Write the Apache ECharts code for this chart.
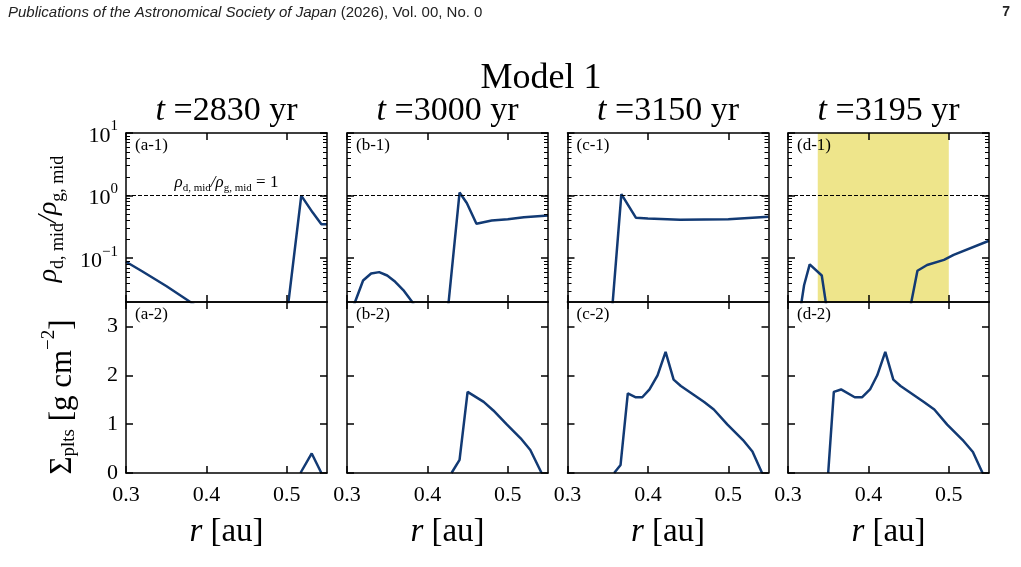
<!DOCTYPE html>
<html>
<head>
<meta charset="utf-8">
<script src="https://cdn.jsdelivr.net/npm/echarts@6/dist/echarts.min.js"></script>
<style>
html, body { margin: 0; padding: 0; background: #fff; }
#chart { width: 1021px; height: 567px; }
</style>
</head>
<body>
<div id="chart"></div>
<script>
// midplane dust-to-gas ratio (top row), radius in au
const rA1 = [0.30, 0.32, 0.35, 0.38, 0.39, 0.50, 0.518, 0.532, 0.543, 0.55];
const ratioA1 = [0.088, 0.062, 0.036, 0.020, 0.016, 0.012, 1.0, 0.54, 0.35, 0.35];
const rB1 = [0.30, 0.31, 0.32, 0.33, 0.34, 0.35, 0.36, 0.37, 0.38, 0.39, 0.42, 0.44, 0.449, 0.461, 0.48, 0.50, 0.52, 0.55];
const ratioB1 = [0.008, 0.02, 0.044, 0.057, 0.06, 0.053, 0.042, 0.031, 0.021, 0.013, 0.003, 1.12, 0.76, 0.355, 0.40, 0.42, 0.45, 0.48];
const rC1 = [0.30, 0.35, 0.367, 0.385, 0.40, 0.44, 0.50, 0.55];
const ratioC1 = [0.001, 0.002, 1.06, 0.445, 0.43, 0.41, 0.42, 0.46];
const rD1 = [0.30, 0.31, 0.32, 0.327, 0.342, 0.35, 0.45, 0.461, 0.473, 0.494, 0.506, 0.55];
const ratioD1 = [0.003, 0.0054, 0.037, 0.08, 0.053, 0.011, 0.012, 0.063, 0.078, 0.094, 0.113, 0.19];

// planetesimal surface density (bottom row), g cm^-2
// (the flat zero stretches lie under the bottom spine, only their ends are kept)
const rA2 = [0.517, 0.531, 0.543];
const sigmaA2 = [0, 0.40, 0];
const rB2 = [0.43, 0.44, 0.45, 0.47, 0.482, 0.499, 0.516, 0.528, 0.542];
const sigmaB2 = [0, 0.27, 1.66, 1.455, 1.28, 0.99, 0.71, 0.47, 0];
const rC2 = [0.358, 0.366, 0.375, 0.385, 0.393, 0.402, 0.412, 0.422, 0.432, 0.441, 0.470, 0.482, 0.499, 0.518, 0.530, 0.542];
const sigmaC2 = [0, 0.165, 1.63, 1.55, 1.55, 1.71, 2.0, 2.48, 1.91, 1.78, 1.455, 1.30, 0.99, 0.68, 0.44, 0];
const rD2 = [0.350, 0.357, 0.366, 0.383, 0.392, 0.402, 0.411, 0.421, 0.431, 0.440, 0.469, 0.482, 0.498, 0.517, 0.530, 0.542];
const sigmaD2 = [0, 1.66, 1.71, 1.55, 1.55, 1.71, 2.0, 2.48, 1.91, 1.78, 1.455, 1.30, 0.99, 0.68, 0.43, 0];

const snapshotYears = ['2830', '3000', '3150', '3195'];
const panelLetters = ['a', 'b', 'c', 'd'];
const rTicks = [0.3, 0.4, 0.5];
const ratioTicks = [0.1, 1, 10];
const ratioMinorTicks = [0.03, 0.04, 0.05, 0.06, 0.07, 0.08, 0.09, 0.2, 0.3, 0.4, 0.5, 0.6, 0.7, 0.8, 0.9, 2, 3, 4, 5, 6, 7, 8, 9];
const sigmaTicks = [0, 1, 2, 3];
const shadedD1 = [0.337, 0.5];

const topRows = [[rA1, ratioA1], [rB1, ratioB1], [rC1, ratioC1], [rD1, ratioD1]];
const bottomRows = [[rA2, sigmaA2], [rB2, sigmaB2], [rC2, sigmaC2], [rD2, sigmaD2]];

const serif = '"Liberation Serif", "Times New Roman", serif';
const sans = '"Liberation Sans Narrow", "Liberation Sans", sans-serif';
const navy = '#123a74';
const colLeft = [126, 347, 567.5, 788];
const panelW = 201;
const rowTop = [133, 302];
const rowH = [169, 171];

const chart = echarts.init(document.getElementById('chart'));

const grids = [], xAxes = [], yAxes = [], series = [], titles = [];
const black = { color: '#000', width: 1.5 };

function pairs(r, v) {
    return r.map((x, i) => [x, v[i]]);
}

function expLabel(v) {
    const e = Math.round(Math.log10(v));
    return '{b|10}{e|' + (e < 0 ? '\u2212' + (-e) : e) + '}';
}

for (let row = 0; row < 2; row++) {
    for (let col = 0; col < 4; col++) {
        const g = grids.length;
        grids.push({
            left: colLeft[col], top: rowTop[row], width: panelW, height: rowH[row],
            containLabel: false, outerBoundsMode: 'none'
        });
        // x axes, bottom and mirrored top
        ['bottom', 'top'].forEach(pos => {
            const labelled = row === 1 && pos === 'bottom';
            xAxes.push({
                type: 'value', gridIndex: g, position: pos, min: 0.3, max: 0.55, z: 10,
                axisLine: { show: true, onZero: false, lineStyle: black },
                axisTick: { show: true, inside: true, length: 7, customValues: rTicks, lineStyle: black },
                axisLabel: {
                    show: labelled, customValues: rTicks, margin: 11,
                    fontFamily: serif, fontSize: 22, color: '#000',
                    formatter: v => v.toFixed(1)
                },
                splitLine: { show: false },
                name: labelled ? '{i|r} [au]' : '',
                nameLocation: 'middle', nameGap: 43, nameMoveOverlap: false,
                nameTextStyle: {
                    fontFamily: serif, fontSize: 33, color: '#000',
                    rich: { i: { fontFamily: serif, fontSize: 33, fontStyle: 'italic', color: '#000' } }
                }
            });
        });
        const xi = xAxes.length - 2;
        const isLog = row === 0;
        const yBase = isLog
            ? { type: 'log', logBase: 10, min: 0.02, max: 10 }
            : { type: 'value', min: 0, max: 3.5 };
        const majors = isLog ? ratioTicks : sigmaTicks;
        const yi = yAxes.length;
        ['left', 'right'].forEach(pos => {
            yAxes.push(Object.assign({}, yBase, {
                gridIndex: g, position: pos, z: 10,
                axisLine: { show: true, onZero: false, lineStyle: black },
                axisTick: { show: true, inside: true, length: 7, customValues: majors, lineStyle: black },
                axisLabel: {
                    show: col === 0 && pos === 'left', customValues: majors, margin: 8,
                    fontFamily: serif, fontSize: 22, color: '#000',
                    formatter: isLog ? expLabel : (v => String(v)),
                    rich: {
                        b: { fontFamily: serif, fontSize: 22, color: '#000', verticalAlign: 'bottom', padding: [6, 0, 0, 0] },
                        e: { fontFamily: serif, fontSize: 15, color: '#000', verticalAlign: 'top' }
                    }
                },
                splitLine: { show: false }
            }));
        });
        if (isLog) {
            ['left', 'right'].forEach(pos => {
                yAxes.push(Object.assign({}, yBase, {
                    gridIndex: g, position: pos, z: 10,
                    axisLine: { show: false, onZero: false },
                    axisTick: { show: true, inside: true, length: 4, customValues: ratioMinorTicks, lineStyle: { color: '#000', width: 1 } },
                    axisLabel: { show: false },
                    splitLine: { show: false }
                }));
            });
        }

        const src = isLog ? topRows[col] : bottomRows[col];
        const s = {
            type: 'line', xAxisIndex: xi, yAxisIndex: yi,
            data: pairs(src[0], src[1]),
            showSymbol: false, symbol: 'none', clip: true, z: 3,
            lineStyle: { color: navy, width: 2.5 },
            animation: false, silent: true
        };
        if (isLog) {
            s.markLine = {
                silent: true, symbol: 'none', animation: false,
                lineStyle: { type: [4, 2], color: '#000', width: 1 },
                data: [{ yAxis: 1 }],
                label: {
                    show: col === 0, position: 'insideMiddleTop', distance: 2,
                    formatter: '{r|\u03c1}{s|d, mid}{r|/\u03c1}{s|g, mid}{n| = 1}',
                    rich: {
                        r: { fontFamily: serif, fontSize: 17, color: '#000', fontStyle: 'italic', verticalAlign: 'top' },
                        n: { fontFamily: serif, fontSize: 17, color: '#000', verticalAlign: 'top' },
                        s: { fontFamily: serif, fontSize: 11, color: '#000', verticalAlign: 'bottom', padding: [9, 0, 0, 0] }
                    }
                }
            };
            if (col === 3) {
                s.markArea = {
                    silent: true, animation: false,
                    itemStyle: { color: '#eee58b', opacity: 1 },
                    data: [[{ xAxis: shadedD1[0] }, { xAxis: shadedD1[1] }]]
                };
            }
        }
        series.push(s);

        titles.push({
            text: '(' + panelLetters[col] + '-' + (row + 1) + ')',
            left: colLeft[col] + 9, top: rowTop[row] + 4, padding: 0,
            textStyle: { fontFamily: serif, fontSize: 17, fontWeight: 'normal', color: '#000' }
        });
    }
}

titles.push({
    text: 'Model 1', left: 541, top: 61, textAlign: 'center', padding: 0,
    textStyle: { fontFamily: serif, fontSize: 36, fontWeight: 'normal', color: '#000' }
});
snapshotYears.forEach((yr, col) => {
    titles.push({
        text: '{i|t} =' + yr + ' yr', left: colLeft[col] + panelW / 2, top: 94, textAlign: 'center', padding: 0,
        textStyle: {
            fontFamily: serif, fontSize: 34, fontWeight: 'normal', color: '#000',
            rich: { i: { fontFamily: serif, fontSize: 34, fontStyle: 'italic', color: '#000' } }
        }
    });
});
titles.push({
    text: '{i|Publications of the Astronomical Society of Japan} (2026), Vol. 00, No. 0',
    left: 8, top: 5, padding: 0,
    textStyle: {
        fontFamily: sans, fontSize: 15, fontWeight: 'normal', color: '#222',
        rich: { i: { fontFamily: sans, fontSize: 15, fontStyle: 'italic', color: '#222' } }
    }
});
titles.push({
    text: '7', right: 11, top: 5, padding: 0,
    textStyle: { fontFamily: '"Liberation Sans", sans-serif', fontSize: 14, fontWeight: 'bold', color: '#222' }
});

const graphics = [
    {
        type: 'text', x: 51, y: 219, rotation: Math.PI / 2,
        style: {
            text: '{r|\u03c1}{s|d, mid}{r|/\u03c1}{s|g, mid}',
            align: 'center', verticalAlign: 'middle',
            rich: {
                r: { fontFamily: serif, fontSize: 28, fontStyle: 'italic', fill: '#000', verticalAlign: 'top' },
                s: { fontFamily: serif, fontSize: 18, fill: '#000', verticalAlign: 'bottom', padding: [14, 0, 0, 0] }
            }
        }
    },
    {
        type: 'text', x: 59, y: 397, rotation: Math.PI / 2,
        style: {
            text: '{r|\u03a3}{s|plts}{r| [g cm}{e|\u22122}{r|]}',
            align: 'center', verticalAlign: 'middle',
            rich: {
                r: { fontFamily: serif, fontSize: 31, fill: '#000', verticalAlign: 'bottom', padding: [8, 0, 0, 0] },
                s: { fontFamily: serif, fontSize: 19, fill: '#000', verticalAlign: 'bottom' },
                e: { fontFamily: serif, fontSize: 19, fill: '#000', verticalAlign: 'top' }
            }
        }
    }
];

chart.setOption({
    animation: false,
    backgroundColor: '#fff',
    textStyle: { fontFamily: serif },
    title: titles,
    grid: grids,
    xAxis: xAxes,
    yAxis: yAxes,
    series: series,
    graphic: graphics
});
</script>
</body>
</html>
